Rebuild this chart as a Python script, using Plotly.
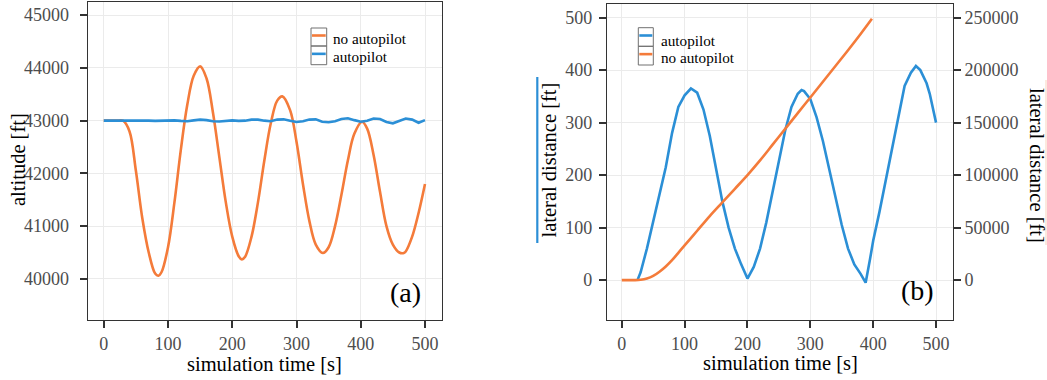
import plotly.graph_objects as go

# ---------------- data: panel (a) altitude ----------------
t_a_no = [0, 10, 20, 30, 40, 50, 60, 70, 80, 85, 90, 100, 110, 120, 130, 140, 150, 160, 170, 180,
          190, 200, 210, 215, 220, 230, 240, 250, 260, 270, 278, 290, 300, 310, 320, 330, 341, 350,
          360, 370, 380, 390, 402, 410, 420, 430, 440, 450, 460, 467, 470, 480, 490, 500]
alt_no = [43000, 43000, 43000, 43000, 42800, 42050, 41150, 40500, 40100, 40060, 40130, 40600, 41450,
          42450, 43300, 43850, 44030, 43800, 43150, 42300, 41450, 40800, 40430, 40370, 40420, 40800,
          41450, 42250, 42950, 43380, 43460, 43200, 42600, 41800, 41100, 40650, 40490, 40600, 41000,
          41600, 42250, 42750, 42980, 42850, 42350, 41650, 41000, 40650, 40500, 40490, 40520, 40800,
          41250, 41800]

t_a_ap = list(range(0, 510, 10))
alt_ap = [43000, 43000, 43000, 43000, 43005, 43010, 43005, 43000, 42995, 43000, 43005, 43005, 42995,
          42990, 43005, 43020, 43010, 42990, 42985, 42995, 43005, 42995, 43000, 43020, 43020, 43000,
          42990, 43020, 43025, 43000, 42975, 42990, 43020, 43025, 42980, 42970, 42990, 43030, 43045,
          43010, 42980, 43000, 43040, 43030, 42975, 42950, 43000, 43040, 43020, 42960, 43010]

# ---------------- data: panel (b) lateral distance ----------------
t_b_ap = [25, 30, 40, 50, 60, 70, 80, 90, 100, 110, 120, 130, 140, 150, 160, 170, 180, 190, 200, 210,
          220, 230, 240, 250, 260, 270, 280, 286, 290, 300, 310, 320, 330, 340, 350, 360, 370, 380,
          388, 395, 400, 410, 420, 430, 440, 450, 460, 468, 475, 485, 490, 500]
lat_ap = [0, 15, 60, 110, 160, 215, 280, 330, 352, 365, 357, 325, 275, 215, 150, 100, 60, 30, 3, 25,
          60, 110, 170, 230, 285, 330, 355, 362, 360, 345, 310, 265, 210, 155, 105, 60, 30, 12,
          -5, 40, 75, 130, 190, 250, 310, 370, 395, 408, 400, 375, 355, 300]

t_b_no = [0, 10, 20, 30, 40, 50, 60, 70, 80, 90, 100, 120, 140, 160, 180, 200, 220, 240, 260, 280,
          300, 320, 340, 360, 380, 398]
lat_no = [0, 0, 0, 300, 1500, 4000, 8000, 13000, 19000, 26000, 33000, 47000, 61000, 74000, 87000,
          100000, 114000, 129000, 144000, 159000, 174000, 189000, 204000, 219000, 234500, 249000]

x_ticks = [0, 100, 200, 300, 400, 500]
alt_ticks = [40000, 41000, 42000, 43000, 44000, 45000]
lat_ticks_left = [0, 100, 200, 300, 400, 500]
lat_ticks_right = [0, 50000, 100000, 150000, 200000, 250000]

legend_a = ["no autopilot", "autopilot"]
legend_b = ["autopilot", "no autopilot"]

ORANGE = "#F47B3A"
BLUE = "#2B8FD6"
FONT = "Liberation Serif"
W, H = 1047, 380


def px(x):
    return x / W


def py(y):
    return 1 - y / H


fig = go.Figure()

fig.add_trace(go.Scatter(x=t_a_no, y=alt_no, name=legend_a[0], mode="lines",
                         line=dict(color=ORANGE, width=2.6, shape="spline", smoothing=1.0),
                         xaxis="x", yaxis="y"))
fig.add_trace(go.Scatter(x=t_a_ap, y=alt_ap, name=legend_a[1], mode="lines",
                         line=dict(color=BLUE, width=2.6),
                         xaxis="x", yaxis="y"))
fig.add_trace(go.Scatter(x=t_b_ap, y=lat_ap, name=legend_b[0], mode="lines",
                         line=dict(color=BLUE, width=2.6),
                         xaxis="x2", yaxis="y2"))
fig.add_trace(go.Scatter(x=t_b_no, y=lat_no, name=legend_b[1], mode="lines",
                         line=dict(color=ORANGE, width=2.6, shape="spline"),
                         xaxis="x2", yaxis="y3"))

tickfont = dict(family=FONT, size=18, color="#4D4D4D")
axis_common = dict(showline=True, linecolor="#333333", linewidth=1.2, mirror=True,
                   ticks="outside", ticklen=7, tickwidth=1.6, tickcolor="#333333",
                   showgrid=True, gridcolor="#EBEBEB", gridwidth=1, zeroline=False,
                   tickfont=tickfont)

fig.update_layout(
    width=W, height=H,
    margin=dict(l=0, r=0, t=0, b=0),
    paper_bgcolor="white", plot_bgcolor="white",
    font=dict(family=FONT, color="black"),
    showlegend=False,
    xaxis=dict(domain=[px(87.7), px(441.7)], range=[-25, 526], tickvals=x_ticks,
               ticktext=[str(v) for v in x_ticks], ticklabelstandoff=0,
               anchor="y", **axis_common),
    yaxis=dict(domain=[py(320), py(2)], range=[39220, 45250], tickvals=alt_ticks,
               ticktext=[str(v) for v in alt_ticks], ticklabelstandoff=7,
               anchor="x", **axis_common),
    xaxis2=dict(domain=[px(607), px(953)], range=[-23.5, 527], tickvals=x_ticks,
                ticktext=[str(v) for v in x_ticks], ticklabelstandoff=0,
                anchor="y2", **axis_common),
    yaxis2=dict(domain=[py(320), py(4)], range=[-76, 526], tickvals=lat_ticks_left,
                ticktext=[str(v) for v in lat_ticks_left], ticklabelstandoff=3,
                anchor="x2", **axis_common),
    yaxis3=dict(range=[-38000, 263000], tickvals=lat_ticks_right,
                ticktext=[str(v) for v in lat_ticks_right], ticklabelstandoff=0,
                overlaying="y2", side="right", anchor="x2", showline=False,
                ticks="outside", ticklen=7, tickwidth=1.6, tickcolor="#333333",
                showgrid=False, zeroline=False, tickfont=tickfont),
)

title_font = dict(family=FONT, size=20.5, color="black")
ann = [
    dict(text="simulation time [s]", x=px(264.7), y=py(364), textangle=0, font=title_font),
    dict(text="simulation time [s]", x=px(780), y=py(363), textangle=0, font=title_font),
    dict(text="altitude [ft]", x=px(18), y=py(160), textangle=-90, font=title_font),
    dict(text="lateral distance [ft]", x=px(548.5), y=py(160), textangle=-90, font=title_font),
    dict(text="lateral distance [ft]", x=px(1037), y=py(165), textangle=90, font=title_font),
    dict(text="(a)", x=px(405), y=py(292), textangle=0, font=dict(family=FONT, size=28, color="black")),
    dict(text="(b)", x=px(917), y=py(290), textangle=0, font=dict(family=FONT, size=28, color="black")),
]
# legend texts
leg_font = dict(family=FONT, size=15.2, color="black")
ann += [
    dict(text=legend_a[0], x=px(331), y=py(38.5), textangle=0, font=leg_font, xanchor="left"),
    dict(text=legend_a[1], x=px(331), y=py(56), textangle=0, font=leg_font, xanchor="left"),
    dict(text=legend_b[0], x=px(658.5), y=py(40), textangle=0, font=leg_font, xanchor="left"),
    dict(text=legend_b[1], x=px(658.5), y=py(57.5), textangle=0, font=leg_font, xanchor="left"),
]
for a in ann:
    a.setdefault("xanchor", "center")
    a.update(xref="paper", yref="paper", showarrow=False, yanchor="middle")
fig.update_layout(annotations=ann)

shapes = [
    # colored bars beside the lateral distance titles
    dict(type="line", x0=px(537.3), x1=px(537.3), y0=py(77), y1=py(243),
         line=dict(color=BLUE, width=2.2)),
    dict(type="line", x0=px(1046), x1=px(1046), y0=py(80), y1=py(245),
         line=dict(color="#FAD3BD", width=1)),
    # legend backgrounds
    dict(type="rect", x0=px(300), x1=px(432), y0=py(20), y1=py(79),
         fillcolor="white", line=dict(width=0), layer="between"),
    dict(type="rect", x0=px(609), x1=px(752), y0=py(20), y1=py(80),
         fillcolor="white", line=dict(width=0), layer="between"),
]
# legend key boxes and lines (panel a)
key_a = [(28, 46, ORANGE), (46, 64.7, BLUE)]
for y0, y1, c in key_a:
    shapes.append(dict(type="rect", x0=px(311), x1=px(326.7), y0=py(y0), y1=py(y1),
                       line=dict(color="#707070", width=1), fillcolor="rgba(0,0,0,0)"))
    ym = (y0 + y1) / 2 - 1.5
    shapes.append(dict(type="line", x0=px(312), x1=px(325.7), y0=py(ym), y1=py(ym),
                       line=dict(color=c, width=2.6)))
# legend key boxes and lines (panel b)
key_b = [(27.7, 46.3, BLUE), (46.3, 65, ORANGE)]
for y0, y1, c in key_b:
    shapes.append(dict(type="rect", x0=px(638.3), x1=px(653.3), y0=py(y0), y1=py(y1),
                       line=dict(color="#707070", width=1), fillcolor="rgba(0,0,0,0)"))
    ym = (y0 + y1) / 2 - 1.5
    shapes.append(dict(type="line", x0=px(639.3), x1=px(652.3), y0=py(ym), y1=py(ym),
                       line=dict(color=c, width=2.6)))
for s in shapes:
    s.update(xref="paper", yref="paper")
    s.setdefault("layer", "above")
fig.update_layout(shapes=shapes)

fig.write_html("out.html", config={"displayModeBar": False},
               post_script="document.body.style.margin='0';document.body.style.padding='0';")
